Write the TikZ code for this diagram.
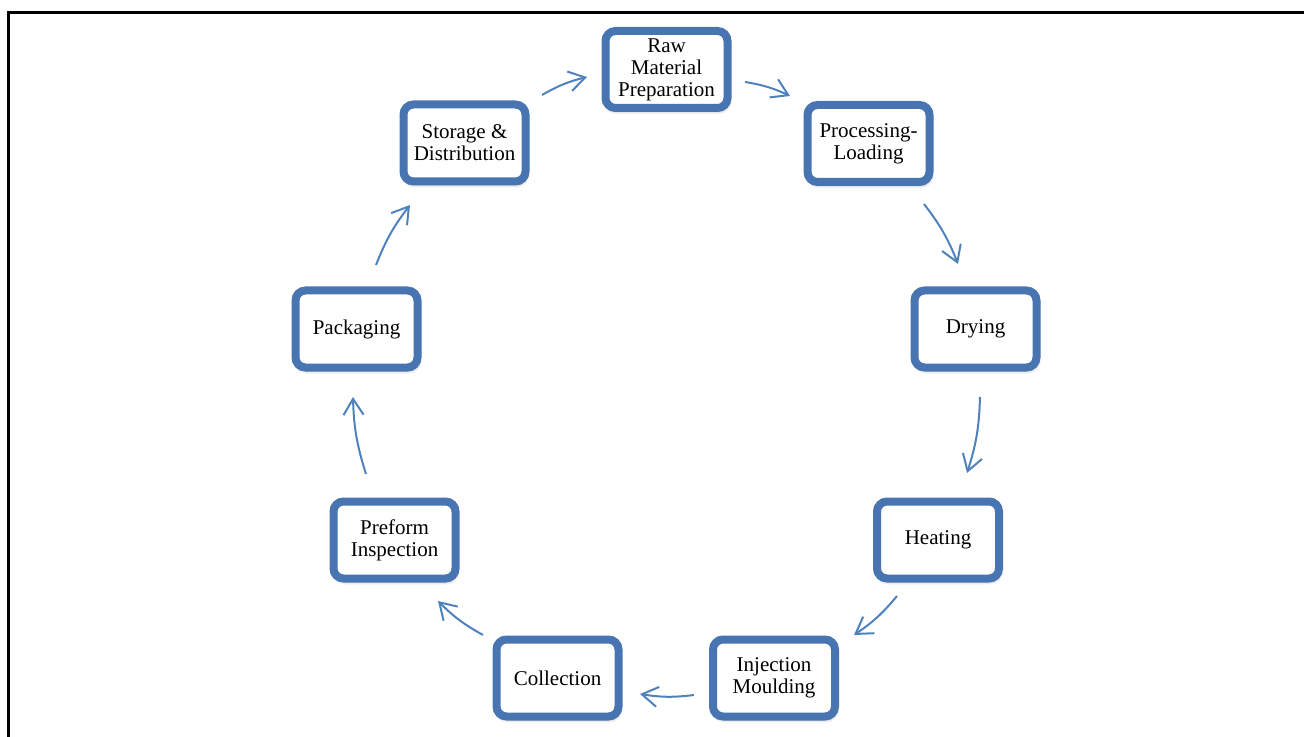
\documentclass[tikz,border=0pt]{standalone}
\usepackage{fontspec}
\setmainfont{Liberation Serif}
\usetikzlibrary{arrows.meta,shadows.blur}
\definecolor{boxblue}{RGB}{72,117,177}
\definecolor{arrowblue}{RGB}{79,129,189}
\begin{document}
\begin{tikzpicture}[x=0.5pt,y=-0.5pt,
  stage/.style={draw=boxblue, line width=4pt, rounded corners=5pt, fill=white,
    minimum width=61pt, minimum height=38.5pt, align=center, inner sep=0pt,
    font=\fontsize{10.5}{11}\selectfont,
    blur shadow={shadow xshift=0.6pt, shadow yshift=-1.5pt, shadow blur steps=6, shadow opacity=35}},
  flow/.style={draw=arrowblue, line width=1pt, -{Straight Barb[length=8pt,width=10pt]}, bend left=8}]
\useasboundingbox (0,0) rectangle (1304,737);
\draw[line width=1.5pt] (8,737) -- (8,13) -- (1304,13);

\node[stage] (raw)  at (666.5,69.5) {Raw\\Material\\Preparation};
\node[stage] (proc) at (868.5,143.5) {Processing-\\Loading};
\node[stage] (dry)  at (975.5,329) {Drying};
\node[stage] (heat) at (938,540) {Heating};
\node[stage] (inj)  at (774,678) {Injection\\Moulding};
\node[stage] (coll) at (557.5,678) {Collection};
\node[stage] (pref) at (394.5,540) {Preform\\Inspection};
\node[stage] (pack) at (356.5,329) {Packaging};
\node[stage] (stor) at (464.5,143) {Storage \&\\Distribution};

\draw[flow] ([shift={(77.5,-48)}]stor.center) to ([shift={(-79.5,7.5)}]raw.center);
\draw[flow] ([shift={(78.5,12.5)}]raw.center) to ([shift={(-78.5,-47.5)}]proc.center);
\draw[flow] ([shift={(55.5,60.5)}]proc.center) to ([shift={(-17.5,-65)}]dry.center);
\draw[flow] ([shift={(4.5,68)}]dry.center) to ([shift={(29,-67)}]heat.center);
\draw[flow] ([shift={(-41,56)}]heat.center) to ([shift={(80,-43)}]inj.center);
\draw[flow] ([shift={(-80,17)}]inj.center) to ([shift={(82.5,16)}]coll.center);
\draw[flow] ([shift={(-74.5,-43)}]coll.center) to ([shift={(43.5,61)}]pref.center);
\draw[flow] ([shift={(-28.5,-66)}]pref.center) to ([shift={(-3.5,68)}]pack.center);
\draw[flow] ([shift={(19.5,-64)}]pack.center) to ([shift={(-54.5,62)}]stor.center);
\end{tikzpicture}
\end{document}
